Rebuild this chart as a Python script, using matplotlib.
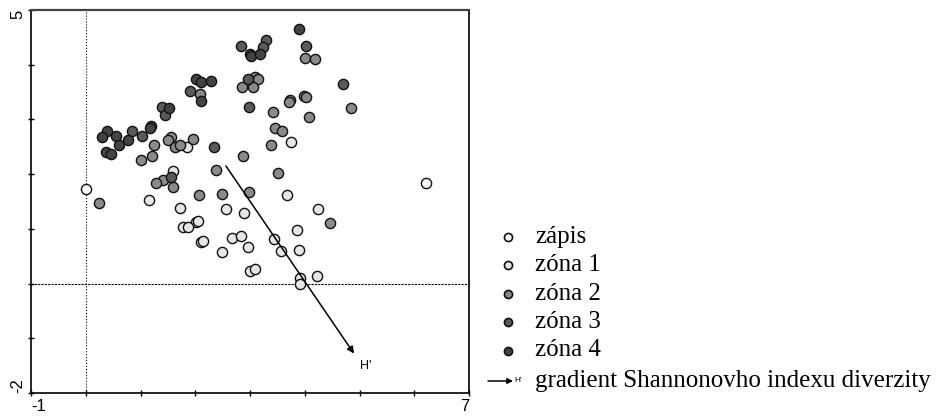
import matplotlib
matplotlib.use("Agg")
import matplotlib.pyplot as plt
import numpy as np

# --- ordination scores ---
zapis_x = [0.00, 6.22]
zapis_y = [1.72, 1.83]

zona1_x = [1.85, 1.60, 1.15, 1.72, 2.57, 3.74, 3.68, 2.89, 4.24, 2.02, 2.05, 1.77, 1.87,
           2.11, 2.14, 2.48, 2.67, 2.83, 2.97, 3.43, 3.85, 3.57, 3.89, 3.00, 3.09, 3.92, 3.92, 4.23]
zona1_y = [2.50, 2.06, 1.53, 1.39, 1.37, 2.58, 1.62, 1.29, 1.36, 1.13, 1.15, 1.04, 1.04,
           0.76, 0.78, 0.58, 0.83, 0.87, 0.66, 0.81, 0.98, 0.60, 0.61, 0.23, 0.26, 0.10, -0.01, 0.14]

zona2_x = [2.08, 1.25, 1.21, 1.00, 1.55, 1.51, 1.63, 1.73, 1.96, 1.41, 1.29, 1.60, 2.38,
           2.07, 2.48, 0.24, 4.01, 4.18, 3.09, 3.14, 2.86, 3.06, 3.73, 3.71, 3.98, 4.02,
           4.85, 3.42, 4.08, 3.45, 3.58, 3.38, 2.87, 3.51, 2.98, 4.47]
zona2_y = [3.46, 2.53, 2.34, 2.25, 2.67, 2.62, 2.50, 2.53, 2.64, 1.89, 1.84, 1.76, 2.07,
           1.62, 1.64, 1.47, 4.13, 4.10, 3.77, 3.74, 3.59, 3.60, 3.35, 3.31, 3.43, 3.41,
           3.20, 3.13, 3.04, 2.84, 2.79, 2.54, 2.33, 2.03, 1.67, 1.10]

zona3_x = [1.90, 1.39, 1.44, 0.85, 1.03, 2.34, 1.55, 2.84, 3.30, 3.24, 4.03, 2.97, 4.70, 2.98]
zona3_y = [3.52, 3.23, 3.08, 2.78, 2.70, 2.50, 1.95, 4.34, 4.45, 4.33, 4.34, 3.73, 3.64, 3.23]

zona4_x = [2.02, 2.11, 2.28, 2.11, 1.52, 1.20, 1.17, 0.39, 0.29, 0.55, 0.78, 0.61, 0.37,
           0.46, 3.89, 3.00, 3.01, 3.19]
zona4_y = [3.73, 3.69, 3.70, 3.34, 3.20, 2.88, 2.85, 2.79, 2.67, 2.70, 2.62, 2.53, 2.41,
           2.36, 4.65, 4.20, 4.16, 4.20]

arrow_start = (2.56, 2.15)
arrow_end = (4.90, -1.28)

groups = [
    ("zápis", zapis_x, zapis_y, "#fafafa"),
    ("zóna 1", zona1_x, zona1_y, "#e6e6e6"),
    ("zóna 2", zona2_x, zona2_y, "#8a8a8a"),
    ("zóna 3", zona3_x, zona3_y, "#5a5a5a"),
    ("zóna 4", zona4_x, zona4_y, "#434343"),
]
gradient_label = "gradient Shannonovho indexu diverzity"

fig = plt.figure(figsize=(9.51, 4.16), dpi=100)
ax = fig.add_axes([31 / 951, 23 / 416, 438 / 951, 383 / 416])

ax.axvline(0, color="black", lw=0.8, ls=":", zorder=1)
ax.axhline(0, color="black", lw=0.8, ls=(0, (2, 1)), zorder=1)

for name, xs, ys, col in groups:
    ax.scatter(xs, ys, s=54, c=col, edgecolors="#111", linewidths=1.0, zorder=3)

ax.annotate("", xy=arrow_end, xytext=arrow_start,
            arrowprops=dict(arrowstyle="-|>", color="black", lw=1.1,
                            mutation_scale=10, shrinkA=0, shrinkB=0), zorder=4)
ax.text(arrow_end[0] + 0.1, arrow_end[1] - 0.12, "H'", fontsize=9,
        family="Liberation Sans", ha="left", va="top")

ax.set_xlim(-1, 7)
ax.set_ylim(-2, 5)
xt = np.arange(-1, 8)
yt = np.arange(-2, 6)
ax.set_xticks(xt, ["-1"] + [""] * 7 + ["7"])
ax.set_yticks(yt, ["-2"] + [""] * 6 + ["5"])
ax.tick_params(direction="inout", length=4, width=1, labelsize=12, pad=2)
for lab in ax.get_xticklabels():
    lab.set_family("Liberation Sans")
ax.get_xticklabels()[0].set_ha("left")
ax.get_xticklabels()[-1].set_ha("right")
for lab in ax.get_yticklabels():
    lab.set_family("Liberation Sans")
    lab.set_rotation(90)
ax.get_yticklabels()[0].set_va("bottom")
ax.get_yticklabels()[-1].set_va("top")
for sp in ax.spines.values():
    sp.set_linewidth(1.2)
ax.spines["top"].set_color("#444")
ax.spines["top"].set_linewidth(1.6)

# --- legend drawn in pixel space to the right ---
lg = fig.add_axes([0, 0, 1, 1])
lg.set_xlim(0, 951)
lg.set_ylim(416, 0)
lg.axis("off")
row_y = [236.5, 265, 293.5, 322, 350.5, 381]
for (name, _, _, col), yy in zip(groups, row_y):
    lg.scatter([508], [yy], s=34, c=col, edgecolors="#111", linewidths=1.2)
    lg.text(535, yy, name, fontsize=18, family="Liberation Serif", va="center", ha="left")
lg.annotate("", xy=(513, row_y[-1]), xytext=(488, row_y[-1]),
            arrowprops=dict(arrowstyle="-|>", color="black", lw=1.1,
                            mutation_scale=8, shrinkA=0, shrinkB=0))
lg.text(514, row_y[-1], "H'", fontsize=6, family="Liberation Sans", va="center", ha="left")
lg.text(535, row_y[-1], gradient_label, fontsize=18, family="Liberation Serif",
        va="center", ha="left")

fig.savefig("out.png", dpi=100)
